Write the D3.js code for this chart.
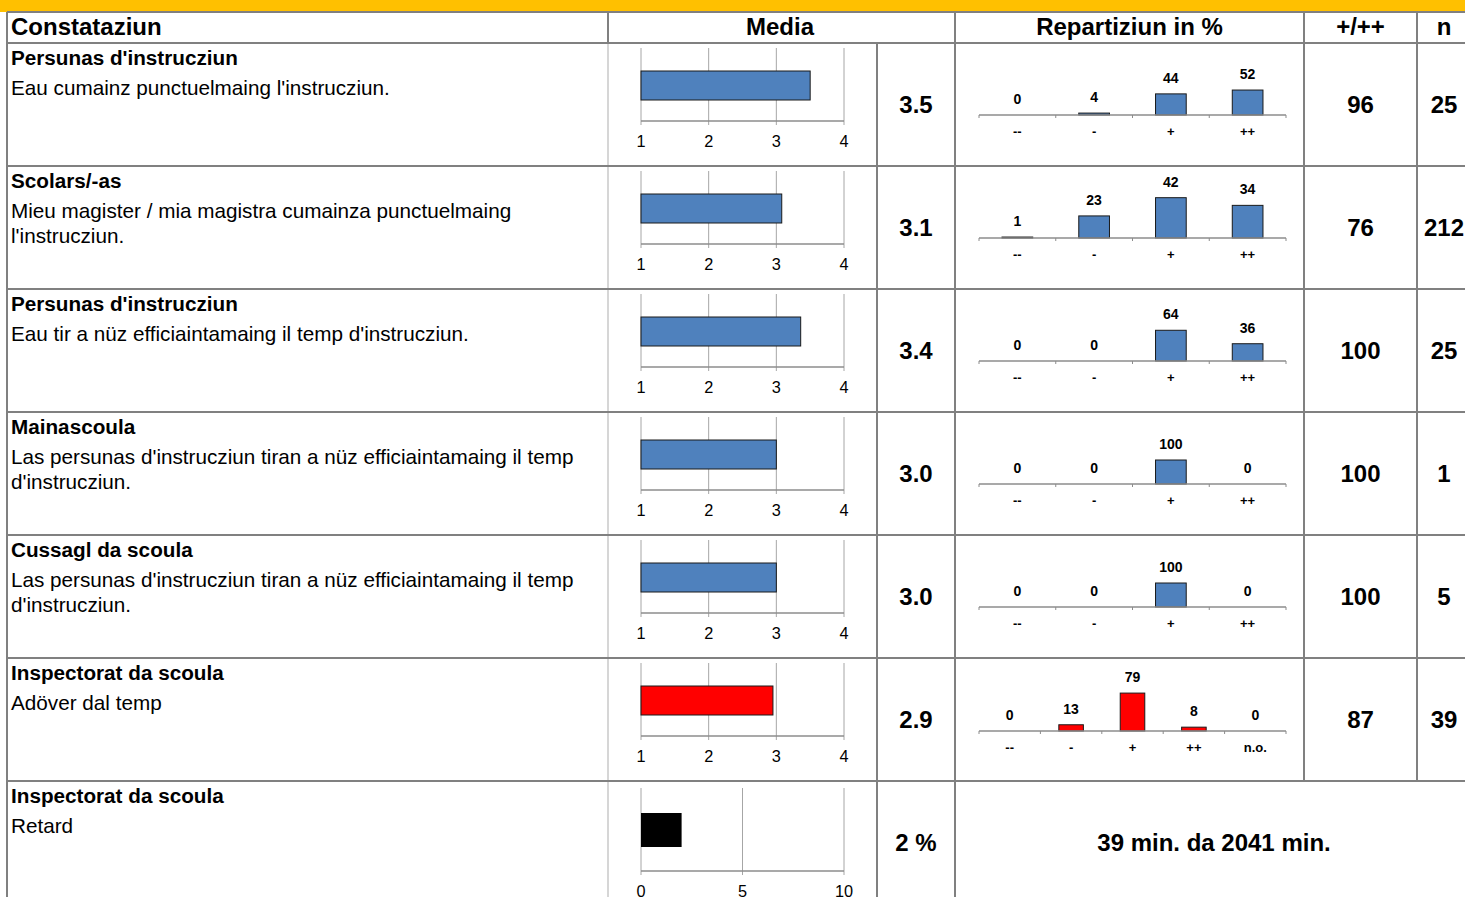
<!DOCTYPE html>
<html><head><meta charset="utf-8">
<script src="https://cdn.jsdelivr.net/npm/d3@7"></script>
<style>body{margin:0;background:#fff;overflow:hidden}svg{display:block;font-family:"Liberation Sans",Arial,sans-serif}</style>
</head><body><svg id="c" width="1465" height="897"></svg>
<script>
// ---------- DATA ----------
const headers = ["Constataziun", "Media", "Repartiziun in %", "+/++", "n"];
const groups = ["Persunas d'instrucziun", "Scolars/-as", "Persunas d'instrucziun", "Mainascoula", "Cussagl da scoula", "Inspectorat da scoula", "Inspectorat da scoula"];
const statements = [
  ["Eau cumainz punctuelmaing l'instrucziun."],
  ["Mieu magister / mia magistra cumainza punctuelmaing", "l'instrucziun."],
  ["Eau tir a nüz efficiaintamaing il temp d'instrucziun."],
  ["Las persunas d'instrucziun tiran a nüz efficiaintamaing il temp", "d'instrucziun."],
  ["Las persunas d'instrucziun tiran a nüz efficiaintamaing il temp", "d'instrucziun."],
  ["Adöver dal temp"],
  ["Retard"]
];
const meanValues = [3.5, 3.08, 3.36, 3.0, 3.0, 2.95];
const meanLabels = ["3.5", "3.1", "3.4", "3.0", "3.0", "2.9"];
const meanTicks = [1, 2, 3, 4];
const catsStd = ["--", "-", "+", "++"];
const catsExt = ["--", "-", "+", "++", "n.o."];
const repartition = [
  [0, 4, 44, 52],
  [1, 23, 42, 34],
  [0, 0, 64, 36],
  [0, 0, 100, 0],
  [0, 0, 100, 0],
  [0, 13, 79, 8, 0]
];
const repMax = [100, 50, 100, 200, 200, 100];
const positiveShare = [96, 76, 100, 100, 100, 87];
const nValues = [25, 212, 25, 1, 5, 39];
const barColors = ["#4F81BD", "#4F81BD", "#4F81BD", "#4F81BD", "#4F81BD", "#FF0000"];
const delayValue = 2;
const delayTicks = [0, 5, 10];
const delayLabel = "2 %";
const delayText = "39 min. da 2041 min.";

// ---------- LAYOUT ----------
const svg = d3.select("#c");
const W = 1465;
const headTop = 12, rowTop0 = 43, rowH = 123;
const colX = {left: 7, media: 608, val: 877, rep: 955, pos: 1304, n: 1417};
const lineCol = "#808080";
const FS = {head: 24, title: 20.7, desc: 20.7, val: 24, tick: 16.3, small: 14, cat: 13};

svg.append("rect").attr("x", 0).attr("y", 0).attr("width", W).attr("height", headTop).attr("fill", "#FFC000");

const hy = 35;
svg.append("text").attr("x", 11).attr("y", hy).text(headers[0]).attr("font-weight", "bold").attr("font-size", FS.head);
[[headers[1], 780], [headers[2], (colX.rep + colX.pos) / 2], [headers[3], (colX.pos + colX.n) / 2], [headers[4], 1444]]
  .forEach(([t, x]) => svg.append("text").attr("x", x).attr("y", hy).attr("text-anchor", "middle").attr("font-weight", "bold").attr("font-size", FS.head).text(t));

const rowTop = i => rowTop0 + i * rowH;
const xMean = d3.scaleLinear().domain([1, 4]).range([641, 844]);
const xDelay = d3.scaleLinear().domain([0, 10]).range([641, 844]);

const grid = svg.append("g");

for (let i = 0; i < 7; i++) {
  const t = rowTop(i);
  const g = svg.append("g");
  g.append("text").attr("x", 11).attr("y", t + 22).attr("font-weight", "bold").attr("font-size", FS.title).text(groups[i]);
  statements[i].forEach((s, k) => g.append("text").attr("x", 11).attr("y", t + 52 + k * 25).attr("font-size", FS.desc).text(s));

  const isDelay = i === 6;
  const xs = isDelay ? xDelay : xMean;
  const ticks = isDelay ? delayTicks : meanTicks;
  const gTop = t + (isDelay ? 7 : 5), axisY = t + (isDelay ? 90 : 78);
  g.selectAll(null).data(ticks).join("line")
    .attr("x1", d => xs(d)).attr("x2", d => xs(d)).attr("y1", gTop).attr("y2", axisY + 4)
    .attr("stroke", "#a6a6a6").attr("stroke-width", 1);
  g.append("line").attr("x1", xs.range()[0]).attr("x2", xs.range()[1]).attr("y1", axisY).attr("y2", axisY).attr("stroke", "#8c8c8c").attr("stroke-width", 1.5);
  g.selectAll(null).data(ticks).join("text").attr("x", d => xs(d)).attr("y", axisY + 26).attr("text-anchor", "middle").attr("font-size", FS.tick).text(d => d);
  if (isDelay) {
    g.append("rect").attr("x", xs(0)).attr("y", t + 32).attr("width", xs(delayValue) - xs(0)).attr("height", 34).attr("fill", "#000");
  } else {
    g.append("rect").attr("x", xs(1)).attr("y", t + 28).attr("width", xs(meanValues[i]) - xs(1)).attr("height", 29)
      .attr("fill", barColors[i]).attr("stroke", "#1a1a1a").attr("stroke-width", 1);
  }
  g.append("text").attr("x", (colX.val + colX.rep) / 2).attr("y", t + 70).attr("text-anchor", "middle").attr("font-weight", "bold").attr("font-size", FS.val)
    .text(isDelay ? delayLabel : meanLabels[i]);

  if (isDelay) {
    g.append("text").attr("x", 1214).attr("y", t + 70).attr("text-anchor", "middle").attr("font-weight", "bold").attr("font-size", FS.val).text(delayText);
    continue;
  }
  const cats = repartition[i].length === 5 ? catsExt : catsStd;
  const xb = d3.scaleBand().domain(cats).range([979, 1286]);
  const rAxis = t + (cats.length === 5 ? 73 : 72);
  const yr = d3.scaleLinear().domain([0, repMax[i]]).range([rAxis, rAxis - 48]);
  const bw = xb.bandwidth() * 0.4;
  const data = cats.map((c, k) => ({c, v: repartition[i][k]}));
  g.selectAll(null).data(data.filter(d => d.v > 0)).join("rect")
    .attr("x", d => xb(d.c) + (xb.bandwidth() - bw) / 2).attr("width", bw)
    .attr("y", d => yr(d.v)).attr("height", d => rAxis - yr(d.v))
    .attr("fill", barColors[i]).attr("stroke", "#1a1a1a").attr("stroke-width", 1);
  g.append("line").attr("x1", 979).attr("x2", 1286).attr("y1", rAxis).attr("y2", rAxis).attr("stroke", "#8c8c8c").attr("stroke-width", 1.5);
  const bounds = cats.map(c => xb(c)).concat([1286]);
  g.selectAll(null).data(bounds).join("line").attr("x1", d => d).attr("x2", d => d).attr("y1", rAxis).attr("y2", rAxis + 3).attr("stroke", "#8c8c8c");
  g.selectAll(null).data(data).join("text").attr("x", d => xb(d.c) + xb.bandwidth() / 2).attr("y", d => yr(d.v) - 11)
    .attr("text-anchor", "middle").attr("font-weight", "bold").attr("font-size", FS.small).text(d => d.v);
  g.selectAll(null).data(cats).join("text").attr("x", d => xb(d) + xb.bandwidth() / 2).attr("y", rAxis + 21)
    .attr("text-anchor", "middle").attr("font-weight", "bold").attr("font-size", FS.cat).text(d => d);
  g.append("text").attr("x", (colX.pos + colX.n) / 2).attr("y", t + 70).attr("text-anchor", "middle").attr("font-weight", "bold").attr("font-size", FS.val).text(positiveShare[i]);
  g.append("text").attr("x", 1444).attr("y", t + 70).attr("text-anchor", "middle").attr("font-weight", "bold").attr("font-size", FS.val).text(nValues[i]);
}

const L = (x1, y1, x2, y2, c = lineCol, w = 2) => grid.append("line").attr("x1", x1).attr("y1", y1).attr("x2", x2).attr("y2", y2).attr("stroke", c).attr("stroke-width", w);
const bottom = 897;
L(colX.left, headTop, colX.left, bottom);
L(colX.media, headTop, colX.media, rowTop0);
L(colX.media, rowTop0, colX.media, bottom, "#c8c8c8", 1.5);
L(colX.val, rowTop0, colX.val, bottom);
L(colX.rep, headTop, colX.rep, bottom);
L(colX.pos, headTop, colX.pos, rowTop(6));
L(colX.n, headTop, colX.n, rowTop(6));
for (let i = 0; i <= 6; i++) L(colX.left, rowTop(i), W, rowTop(i));
L(colX.left, headTop, W, headTop);
svg.node().appendChild(grid.node());
</script></body></html>
